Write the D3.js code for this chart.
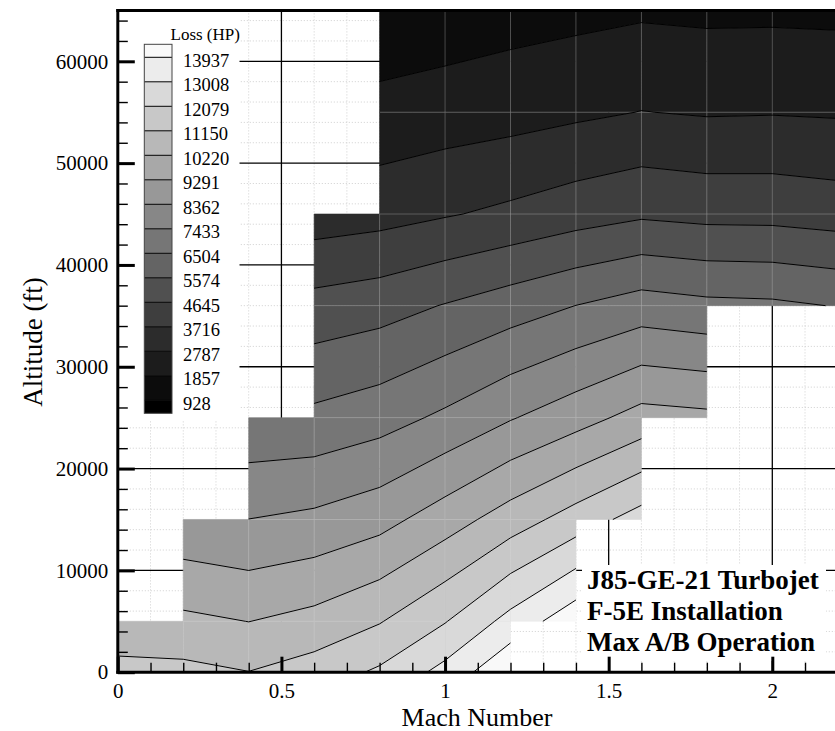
<!DOCTYPE html>
<html><head><meta charset="utf-8">
<script src="https://cdn.jsdelivr.net/npm/d3@7"></script>
<style>body{margin:0;background:#fff} svg text{font-family:"Liberation Serif","Tinos","DejaVu Serif","Noto Serif","Times New Roman",Times,serif !important;}</style>
</head><body>
<svg id="chart" width="835" height="731"></svg>
<script>
// ---------------- data ----------------
const machValues = [0, 0.2, 0.4, 0.6, 0.8, 1.0, 1.2, 1.4, 1.6, 1.8, 2.0, 2.2];
const altitudeValues = [0, 5000, 15000, 25000, 36000, 45000, 55000, 65000];
// Loss (HP) at each mesh node along one Mach line (by altitude); null = outside envelope
const lossM00 = [11454, 10497, null, null, null, null, null, null];
const lossM02 = [11398, 10423, 8565, null, null, null, null, null];
const lossM04 = [11166, 10209, 8370, 6689, null, null, null, null];
const lossM06 = [11575, 10516, 8565, 6726, 4979, 3224, null, null];
const lossM08 = [12225, 11092, 8965, 7051, 5202, 3381, 2137, 1208];
const lossM10 = [13303, 12030, 9773, 7608, 5620, 3642, 2304, 1319];
const lossM12 = [14770, 13321, 10674, 8296, 6057, 3911, 2434, 1496];
const lossM14 = [null, 14566, 11566, 8918, 6512, 4236, 2620, 1607];
const lossM16 = [null, null, 12476, 9633, 6921, 4505, 2805, 1728];
const lossM18 = [null, null, null, 9503, 6726, 4375, 2713, 1672];
const lossM20 = [null, null, null, null, 6670, 4357, 2740, 1681];
const lossM22 = [null, null, null, null, 6466, 4217, 2694, 1654];
const lossColumns = [lossM00, lossM02, lossM04, lossM06, lossM08, lossM10, lossM12, lossM14, lossM16, lossM18, lossM20, lossM22];

const contourLevels = [928, 1857, 2787, 3716, 4645, 5574, 6504, 7433, 8362, 9291, 10220, 11150, 12079, 13008, 13937];
const levelLabels = ["928", "1857", "2787", "3716", "4645", "5574", "6504", "7433", "8362", "9291", "10220", "11150", "12079", "13008", "13937"];
const xTickValues = [0, 0.5, 1, 1.5, 2];
const yTickValues = [0, 10000, 20000, 30000, 40000, 50000, 60000];
const titleLines = ["J85-GE-21 Turbojet", "F-5E Installation", "Max A/B Operation"];
const legendTitle = "Loss (HP)";
const xTitle = "Mach Number";
const yTitle = "Altitude (ft)";

// ---------------- styles ----------------
const bandGrays = [0, 12, 28, 44, 62, 80, 100, 118, 135, 152, 168, 184, 200, 217, 236, 249];
const bandColor = i => d3.rgb(bandGrays[i], bandGrays[i], bandGrays[i]).formatHex();
const SERIF = '"Liberation Serif","Tinos","DejaVu Serif","Noto Serif","Times New Roman",Times,serif';

const svg = d3.select("#chart");
const x = d3.scaleLinear().domain([0, 2.2]).range([117.8, 837.75]);
const y = d3.scaleLinear().domain([0, 65000]).range([672.2, 10.4]);
const X0 = 117.8, X1 = 835, YT = 10.4, YB = 672.2;

svg.append("rect").attr("width", 835).attr("height", 731).attr("fill", "#fff");

// minor dotted grid
const xMinor = d3.range(1, 23).map(k => k / 10).filter(v => Math.abs(v * 2 - Math.round(v * 2)) > 1e-6);
const yMinor = d3.range(2000, 65000, 2000).filter(v => v % 10000 !== 0);
const gMinor = svg.append("g").attr("stroke", "#cfcfcf").attr("stroke-width", 1).attr("stroke-dasharray", "1 2");
gMinor.selectAll("line.v").data(xMinor).join("line").attr("class", "v")
  .attr("x1", d => x(d)).attr("x2", d => x(d)).attr("y1", YT).attr("y2", YB);
gMinor.selectAll("line.h").data(yMinor).join("line").attr("class", "h")
  .attr("x1", X0).attr("x2", X1).attr("y1", d => y(d)).attr("y2", d => y(d));

// major grid
const gMajor = svg.append("g").attr("stroke", "#000").attr("stroke-width", 1.3);
gMajor.selectAll("line.v").data(xTickValues.filter(d => d > 0)).join("line").attr("class", "v")
  .attr("x1", d => x(d)).attr("x2", d => x(d)).attr("y1", YT).attr("y2", YB);
gMajor.selectAll("line.h").data(yTickValues.filter(d => d > 0)).join("line").attr("class", "h")
  .attr("x1", X0).attr("x2", X1).attr("y1", d => y(d)).attr("y2", d => y(d));

// ---------------- contouring ----------------
function node(i, j) {
  const v = lossColumns[i][j];
  return v == null ? null : { m: machValues[i], h: altitudeValues[j], v };
}
function cellPoly(i, j) {
  const p = [node(i, j), node(i + 1, j), node(i + 1, j + 1), node(i, j + 1)];
  return p.some(d => d == null) ? null : p;
}
function clip(poly, level, sign) {
  const out = [];
  for (let k = 0; k < poly.length; k++) {
    const a = poly[k], b = poly[(k + 1) % poly.length];
    const ina = sign * (a.v - level) >= 0, inb = sign * (b.v - level) >= 0;
    if (ina) out.push(a);
    if (ina !== inb) {
      const t = (level - a.v) / (b.v - a.v);
      out.push({ m: a.m + t * (b.m - a.m), h: a.h + t * (b.h - a.h), v: level });
    }
  }
  return out;
}
const bandPolys = [], segments = [];
for (let i = 0; i < machValues.length - 1; i++) {
  for (let j = 0; j < altitudeValues.length - 1; j++) {
    const poly = cellPoly(i, j);
    if (!poly) continue;
    for (let b = 0; b <= contourLevels.length; b++) {
      let p = poly;
      if (b > 0) p = clip(p, contourLevels[b - 1], 1);
      if (p.length >= 3 && b < contourLevels.length) p = clip(p, contourLevels[b], -1);
      if (p.length >= 3) bandPolys.push({ band: b, pts: p });
    }
    contourLevels.forEach(L => {
      const pts = [];
      for (let k = 0; k < 4; k++) {
        const a = poly[k], c = poly[(k + 1) % 4];
        if ((a.v - L) * (c.v - L) < 0) {
          const t = (L - a.v) / (c.v - a.v);
          pts.push({ m: a.m + t * (c.m - a.m), h: a.h + t * (c.h - a.h) });
        }
      }
      for (let k = 0; k + 1 < pts.length; k += 2) segments.push([pts[k], pts[k + 1]]);
    });
  }
}
const line = d3.line().x(d => x(d.m)).y(d => y(d.h));
svg.append("g").selectAll("path").data(bandPolys).join("path")
  .attr("d", d => line(d.pts) + "Z")
  .attr("fill", d => bandColor(d.band))
  .attr("stroke", d => bandColor(d.band)).attr("stroke-width", 0.6);

// mesh lines (interior edges)
const meshEdges = [];
const cellExists = (i, j) => i >= 0 && j >= 0 && i < machValues.length - 1 && j < altitudeValues.length - 1 && cellPoly(i, j) != null;
for (let i = 1; i < machValues.length - 1; i++)
  for (let j = 0; j < altitudeValues.length - 1; j++)
    if (cellExists(i - 1, j) && cellExists(i, j))
      meshEdges.push([{ m: machValues[i], h: altitudeValues[j] }, { m: machValues[i], h: altitudeValues[j + 1] }]);
for (let j = 1; j < altitudeValues.length - 1; j++)
  for (let i = 0; i < machValues.length - 1; i++)
    if (cellExists(i, j - 1) && cellExists(i, j))
      meshEdges.push([{ m: machValues[i], h: altitudeValues[j] }, { m: machValues[i + 1], h: altitudeValues[j] }]);
svg.append("g").selectAll("path").data(meshEdges).join("path")
  .attr("d", d => line(d)).attr("stroke", "#d8d8d8").attr("stroke-opacity", 0.3).attr("stroke-width", 1).attr("fill", "none");

// contour lines
svg.append("g").selectAll("path").data(segments).join("path")
  .attr("d", d => line(d)).attr("stroke", "#000").attr("stroke-width", 1).attr("fill", "none");

// ---------------- legend ----------------
const lg = svg.append("g");
lg.append("rect").attr("x", 119.3).attr("y", 12).attr("width", 120.2).attr("height", 408).attr("fill", "#fff");
const ly = d3.scaleLinear().domain([1, 15]).range([400.3, 57.3]);
const cbX = 144.3, cbW = 27.7;
const legendBands = d3.range(0, 16).map(b => {
  const top = b === 15 ? ly(15) - 13 : ly(b + 1);
  const bot = b === 0 ? ly(1) + 13 : ly(b);
  return { b, top, bot };
});
lg.selectAll("rect.cb").data(legendBands).join("rect").attr("class", "cb")
  .attr("x", cbX).attr("y", d => d.top).attr("width", cbW).attr("height", d => d.bot - d.top)
  .attr("fill", d => bandColor(d.b));
lg.selectAll("line.div").data(contourLevels.map((v, k) => k + 1)).join("line").attr("class", "div")
  .attr("x1", cbX).attr("x2", cbX + cbW).attr("y1", d => ly(d)).attr("y2", d => ly(d))
  .attr("stroke", "#000").attr("stroke-width", 1);
lg.append("rect").attr("x", cbX).attr("y", ly(15) - 13).attr("width", cbW).attr("height", ly(1) - ly(15) + 26)
  .attr("fill", "none").attr("stroke", "#444").attr("stroke-width", 1);
lg.selectAll("text.lab").data(levelLabels).join("text").attr("class", "lab")
  .attr("x", 183).attr("y", (d, k) => ly(k + 1) + 9.3).attr("font-size", 18.5).attr("font-family", SERIF).text(d => d);
lg.append("text").attr("x", 170.5).attr("y", 40).attr("font-size", 17).attr("font-family", SERIF).text(legendTitle);

// ---------------- title box ----------------
const tb = svg.append("g");
tb.append("rect").attr("x", 582).attr("y", 565).attr("width", 244).attr("height", 96).attr("fill", "#fff");
tb.selectAll("text").data(titleLines).join("text")
  .attr("x", 587).attr("y", (d, k) => 588.5 + k * 31).attr("font-size", 27).attr("font-weight", "bold")
  .attr("font-family", SERIF).text(d => d);

// ---------------- axes ----------------
const xMinorTicks = xMinor;
const yMinorTicks = yMinor;

const gxMinor = svg.append("g").attr("transform", `translate(0,${YB})`)
  .call(d3.axisBottom(x).tickValues(xMinorTicks).tickSizeInner(-9.5).tickSizeOuter(0).tickFormat(""));
gxMinor.selectAll(".tick line").attr("stroke", "#000").attr("stroke-width", 1.4);
gxMinor.select(".domain").remove();
const gx = svg.append("g").attr("transform", `translate(0,${YB})`)
  .call(d3.axisBottom(x).tickValues(xTickValues).tickSizeInner(-15.5).tickSizeOuter(0).tickPadding(11).tickFormat(d => String(d)));
gx.attr("font-family", SERIF);
gx.selectAll(".tick line").attr("stroke", "#000").attr("stroke-width", 3);
gx.selectAll(".tick text").attr("font-size", 21).attr("fill", "#000").attr("font-family", SERIF);
gx.select(".domain").remove();

const gyMinor = svg.append("g").attr("transform", `translate(${X0},0)`)
  .call(d3.axisLeft(y).tickValues(yMinorTicks).tickSizeInner(-10).tickSizeOuter(0).tickFormat(""));
gyMinor.selectAll(".tick line").attr("stroke", "#000").attr("stroke-width", 1.4);
gyMinor.select(".domain").remove();
const gy = svg.append("g").attr("transform", `translate(${X0},0)`)
  .call(d3.axisLeft(y).tickValues(yTickValues).tickSizeInner(-17).tickSizeOuter(0).tickPadding(9.5).tickFormat(d => String(d)));
gy.attr("font-family", SERIF);
gy.selectAll(".tick line").attr("stroke", "#000").attr("stroke-width", 3);
gy.selectAll(".tick text").attr("font-size", 21).attr("fill", "#000").attr("font-family", SERIF);
gy.select(".domain").remove();

const frame = svg.append("g").attr("stroke", "#000").attr("stroke-width", 3).attr("stroke-linecap", "square");
frame.append("line").attr("x1", X0).attr("x2", X0).attr("y1", YT).attr("y2", YB);
frame.append("line").attr("x1", X0).attr("x2", 840).attr("y1", YT).attr("y2", YT);
frame.append("line").attr("x1", X0).attr("x2", 840).attr("y1", YB).attr("y2", YB);

svg.append("text").attr("x", 477).attr("y", 726).attr("text-anchor", "middle").attr("font-size", 26).attr("font-family", SERIF).text(xTitle);
svg.append("text").attr("transform", "translate(41.5,342) rotate(-90)").attr("text-anchor", "middle").attr("font-size", 27).attr("font-family", SERIF).text(yTitle);
</script>
</body></html>
